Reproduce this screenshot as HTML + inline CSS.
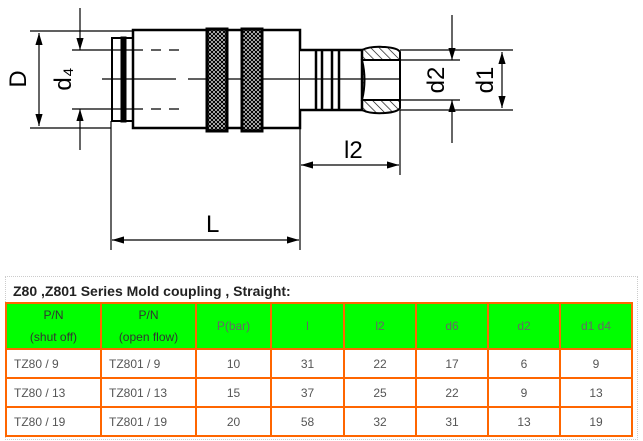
<!DOCTYPE html>
<html><head><meta charset="utf-8"><style>
body{margin:0;width:643px;height:441px;background:#fff;overflow:hidden;font-family:"Liberation Sans",Arial,sans-serif}
#wrap{position:absolute;left:5px;top:276px;width:631px;height:162px;border:1px dotted #ccc}
#title{position:absolute;left:7px;top:6px;font-size:14px;font-weight:bold;color:#222}
table{position:absolute;left:-1px;top:25px;border-collapse:collapse;font-size:12px;color:#555}
td{border:2px solid #f60;text-align:center;padding:0}
tr.h td{background:#00ff00;color:#666;height:43px}
tr.h td.pn{color:#333;line-height:22px}
tr.r td{height:27px}
td.l{text-align:left;padding-left:7px}
</style></head><body>
<svg width="643" height="276" style="position:absolute;left:0;top:0" font-family="Liberation Sans,sans-serif">
<defs>
<pattern id="k" width="4" height="4" patternUnits="userSpaceOnUse"><rect width="4" height="4" fill="#fff"/><path d="M0 0L4 4M4 0L0 4" stroke="#000" stroke-width="1.2"/></pattern>
<pattern id="h" width="6" height="6" patternUnits="userSpaceOnUse" patternTransform="rotate(-45)"><line x1="0" y1="0" x2="0" y2="6" stroke="#000" stroke-width="1.3"/></pattern>
<marker id="a" viewBox="0 0 10 6" refX="10" refY="3" markerWidth="10" markerHeight="6" orient="auto-start-reverse"><path d="M0 0L10 3L0 6z" fill="#000"/></marker>
</defs>
<g stroke="#000" fill="none" stroke-width="1.2">
<line x1="30" y1="31" x2="133" y2="31"/><line x1="30" y1="128" x2="111" y2="128"/>
<line x1="39" y1="33" x2="39" y2="126" marker-start="url(#a)" marker-end="url(#a)"/>
<line x1="80" y1="8" x2="80" y2="50" marker-end="url(#a)"/><line x1="80" y1="150" x2="80" y2="109" marker-end="url(#a)"/>
<line x1="72" y1="50" x2="112" y2="50"/><line x1="72" y1="109" x2="112" y2="109"/>
<line x1="111" y1="121" x2="111" y2="250"/><line x1="300" y1="126" x2="300" y2="250"/>
<line x1="112" y1="240" x2="299" y2="240" marker-start="url(#a)" marker-end="url(#a)"/>
<line x1="400" y1="110" x2="400" y2="175"/>
<line x1="301" y1="165" x2="399" y2="165" marker-start="url(#a)" marker-end="url(#a)"/>
<line x1="400" y1="60" x2="460" y2="60"/><line x1="400" y1="100" x2="460" y2="100"/>
<line x1="452" y1="15" x2="452" y2="60" marker-end="url(#a)"/><line x1="452" y1="143" x2="452" y2="100" marker-end="url(#a)"/>
<line x1="400" y1="50" x2="513" y2="50"/><line x1="400" y1="110" x2="513" y2="110"/>
<line x1="502" y1="52" x2="502" y2="108" marker-start="url(#a)" marker-end="url(#a)"/>
</g>
<g stroke="#000" stroke-width="2.5" fill="#fff">
<rect x="112" y="38" width="21" height="83" stroke-width="2"/>
<rect x="121" y="37" width="5" height="85" fill="#000" stroke-width="1"/>
<path d="M133 30H300V128H133Z"/>
<rect x="207" y="29" width="20" height="102" fill="url(#k)" stroke-width="3"/>
<rect x="242" y="29" width="20" height="102" fill="url(#k)" stroke-width="3"/>
<path d="M300 50H362V110H300" />
<path d="M316 50V110M322 50V110M332 50V110M339 50V110" stroke-width="2.5"/>
<path d="M362 50Q370 46 385 47Q398 48 400 52V108Q398 112 385 113Q370 114 362 110Z" fill="url(#h)" stroke-width="2"/>
<path d="M362 60H400V100H362Q367 80 362 60Z" fill="#fff" stroke-width="2"/>
</g>
<g stroke="#000" fill="none" stroke-width="1.2">
<path d="M112 50H133M112 109H133"/>
<path d="M133 50H180M133 109H180" stroke-dasharray="10 8"/>
<path d="M102 79H176M188 79H206M227 79H242M262 79H400"/>
</g>
<g font-size="24" fill="#000">
<text transform="translate(26,79) rotate(-90)" text-anchor="middle">D</text>
<text transform="translate(71,79) rotate(-90)" text-anchor="middle">d₄</text>
<text transform="translate(444,80) rotate(-90)" text-anchor="middle">d2</text>
<text transform="translate(493,80) rotate(-90)" text-anchor="middle">d1</text>
<text x="344" y="158">l2</text>
<text x="206" y="232">L</text>
</g>
</svg>
<div id="wrap"><div id="title">Z80 ,Z801 Series Mold coupling , Straight:</div>
<table>
<tr class="h"><td class="pn" style="width:93px">P/N<br>(shut off)</td><td class="pn" style="width:93px">P/N<br>(open flow)</td><td style="width:73px">P(bar)</td><td style="width:71px">l</td><td style="width:70px">l2</td><td style="width:70px">d6</td><td style="width:70px">d2</td><td style="width:70px">d1 d4</td></tr>
<tr class="r"><td class="l">TZ80 / 9</td><td class="l">TZ801 / 9</td><td>10</td><td>31</td><td>22</td><td>17</td><td>6</td><td>9</td></tr>
<tr class="r"><td class="l">TZ80 / 13</td><td class="l">TZ801 / 13</td><td>15</td><td>37</td><td>25</td><td>22</td><td>9</td><td>13</td></tr>
<tr class="r"><td class="l">TZ80 / 19</td><td class="l">TZ801 / 19</td><td>20</td><td>58</td><td>32</td><td>31</td><td>13</td><td>19</td></tr>
</table></div>
</body></html>
